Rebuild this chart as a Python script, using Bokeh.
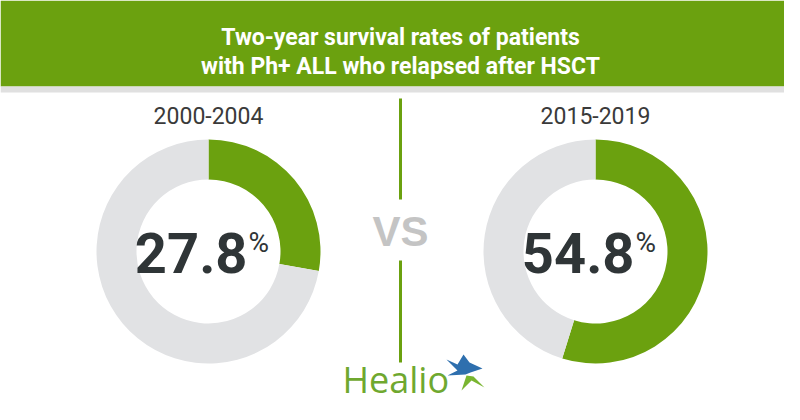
import math
from bokeh.plotting import figure
from bokeh.models import Range1d, ColumnDataSource
from bokeh.core.properties import value
from bokeh.embed import file_html
from bokeh.resources import INLINE

# ---- data ----
periods = ["2000-2004", "2015-2019"]
survival = [27.8, 54.8]
title_lines = ["Two-year survival rates of patients",
               "with Ph+ ALL who relapsed after HSCT"]
vs_label = "VS"
brand = "Healio"

# ---- style ----
GREEN = "#6ba10f"
RING_GRAY = "#e1e2e4"
DARK = "#2f3537"
LABEL = "#3a3a3a"
FONT = "Roboto"

W, H = 784, 404   # fits the 800x420 window inside the 8px page margin
REF_H = 420


def Y(yi):
    return REF_H - yi


def base(yi, size, k=0.36):
    # bokeh's svg text sits lower than the requested alphabetic baseline
    return Y(yi - k * size)


p = figure(width=W, height=H, x_range=Range1d(0, W), y_range=Range1d(REF_H - H, REF_H),
           output_backend="svg", toolbar_location=None,
           x_axis_type=None, y_axis_type=None, min_border=0)
p.grid.visible = False
p.outline_line_color = None
p.background_fill_color = "white"
p.border_fill_color = "white"

# header
p.quad(left=0, right=800, top=Y(0), bottom=Y(86), fill_color=GREEN, line_color=None)
p.quad(left=0, right=800, top=Y(86), bottom=Y(92), fill_color="#e0e0e0", line_color=None)
p.text(x=[400, 400], y=[base(39, 23, 0.1), base(68, 23, 0.1)], text=title_lines,
       text_align="center", text_baseline="alphabetic", text_color="white",
       text_font=value(FONT), text_font_style="bold", text_font_size="23px")

# donuts
centers_x = [208, 595]
cy = Y(251)
for cx, period, val in zip(centers_x, periods, survival):
    fracs = [val / 100.0, 1 - val / 100.0]
    starts, ends = [], []
    a = math.pi / 2
    for f in fracs:
        starts.append(a)
        a = a - f * 2 * math.pi
        ends.append(a)
    src = ColumnDataSource(dict(x=[cx, cx], y=[cy, cy], start=starts, end=ends,
                                color=[GREEN, RING_GRAY]))
    p.annular_wedge(x="x", y="y", inner_radius=72, outer_radius=112,
                    start_angle="start", end_angle="end", direction="clock",
                    fill_color="color", line_color=None, source=src)
    p.text(x=[cx], y=[base(123, 23)], text=[period], text_align="center",
           text_baseline="alphabetic", text_color=LABEL,
           text_font=value(FONT), text_font_size="23px")
    p.text(x=[cx + 39], y=[base(275, 56, 0.4)], text=[f"{val:.1f}"], text_align="right",
           text_baseline="alphabetic", text_color=DARK, text_font=value(FONT),
           text_font_style="bold", text_font_size="56px")
    p.text(x=[cx + 40], y=[base(253, 28, 0.38)], text=["%"], text_align="left",
           text_baseline="alphabetic", text_color=DARK, text_font=value(FONT),
           text_font_size="28px")

# divider and VS
p.segment(x0=[400, 400], y0=[Y(98), Y(260)], x1=[400, 400], y1=[Y(199), Y(362)],
          line_color=GREEN, line_width=3)
p.text(x=[400], y=[base(245, 42, 0.33)], text=[vs_label], text_align="center",
       text_baseline="alphabetic", text_color="#c4c4c4",
       text_font=value("Liberation Sans"), text_font_style="bold", text_font_size="42px")

# logo
p.text(x=[342], y=[base(393, 36, 0.38)], text=[brand], text_align="left",
       text_baseline="alphabetic", text_color="#6fa82f",
       text_font=value("Open Sans"), text_font_size="36px")
blue_x = [446, 457, 463, 469, 482, 470, 465, 447, 457]
blue_y = [359, 364, 354, 362, 368, 372, 374, 375, 370]
green_x = [466, 473, 484, 471, 461]
green_y = [375, 376, 387, 380, 390]
p.patch(x=blue_x, y=[Y(v) for v in blue_y], fill_color="#2e6fae", line_color=None)
p.patch(x=green_x, y=[Y(v) for v in green_y], fill_color="#79b530", line_color=None)

open("out.html", "w").write(file_html(p, INLINE))
